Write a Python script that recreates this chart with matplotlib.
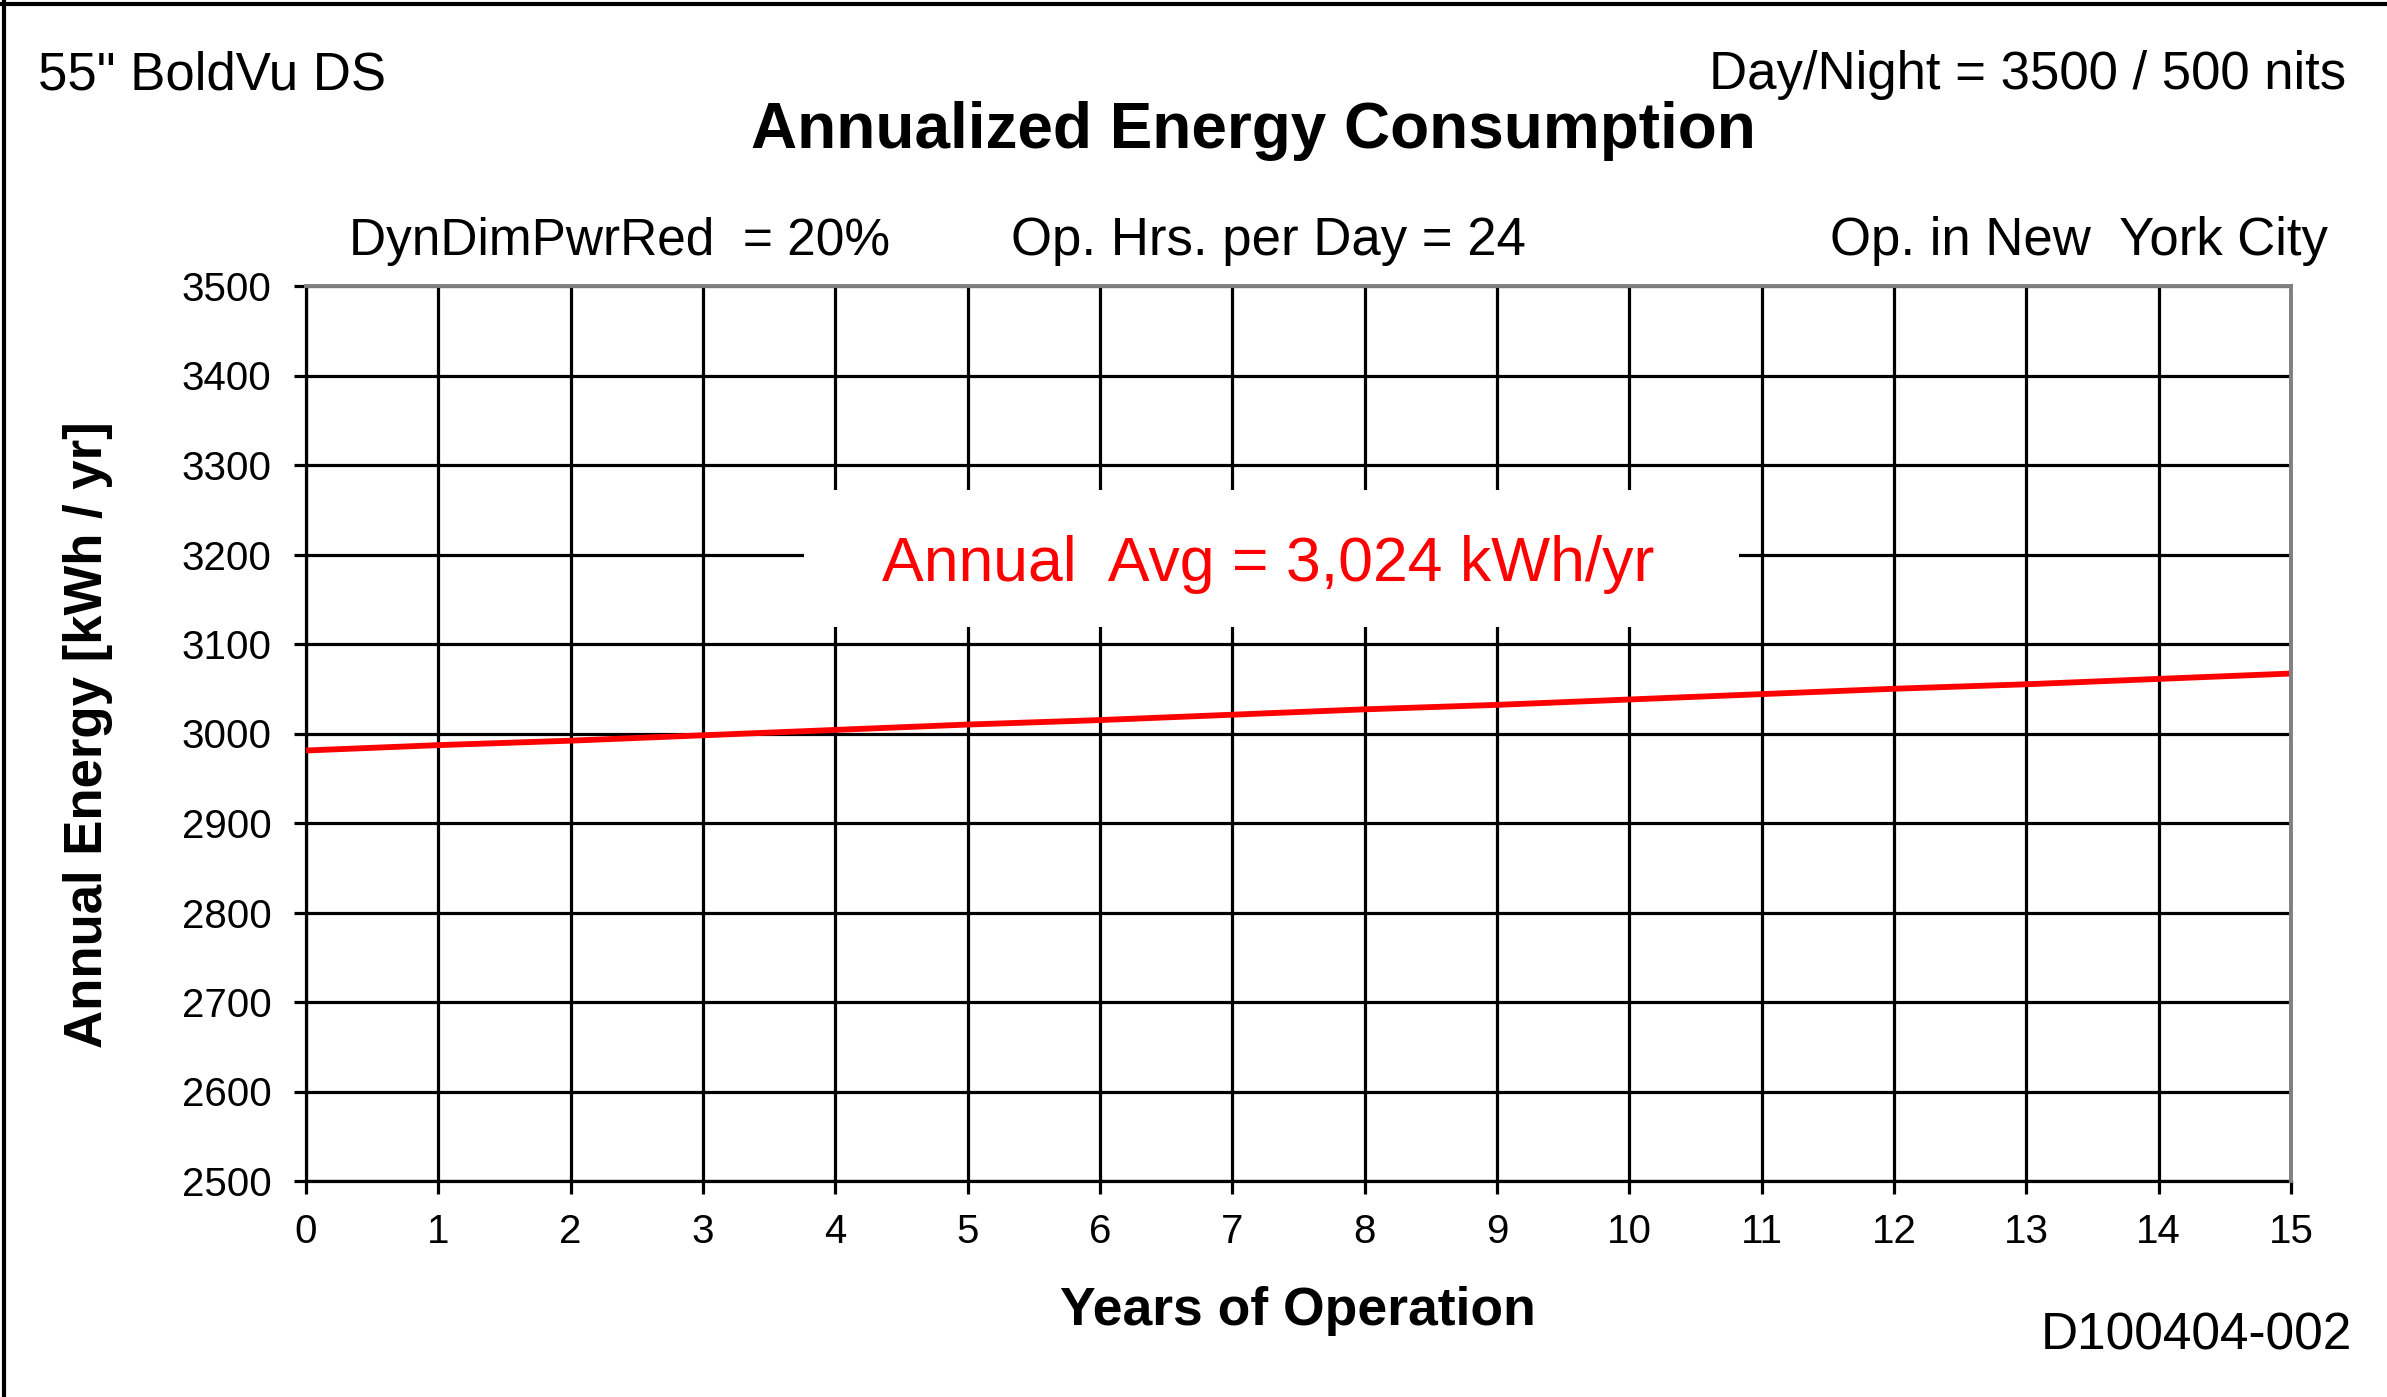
import matplotlib
matplotlib.use("Agg")
import matplotlib.pyplot as plt
from matplotlib.lines import Line2D
from matplotlib.patches import Rectangle

# ---- data ----
years = [0, 1, 2, 3, 4, 5, 6, 7, 8, 9, 10, 11, 12, 13, 14, 15]
energy = [2981, 2987, 2992, 2998, 3004, 3010, 3015, 3021, 3027, 3032,
          3038, 3044, 3050, 3055, 3061, 3067]
x_ticks = list(range(0, 16))
y_ticks = [2500, 2600, 2700, 2800, 2900, 3000, 3100, 3200, 3300, 3400, 3500]

title = "Annualized Energy Consumption"
top_left = '55" BoldVu DS'
top_right = "Day/Night = 3500 / 500 nits"
sub_left = "DynDimPwrRed  = 20%"
sub_mid = "Op. Hrs. per Day = 24"
sub_right = "Op. in New  York City"
avg_label = "Annual  Avg = 3,024 kWh/yr"
xlabel = "Years of Operation"
ylabel = "Annual Energy [kWh / yr]"
doc_id = "D100404-002"

plt.rcParams['font.family'] = ['Liberation Sans', 'DejaVu Sans']

W, H = 2387, 1397
fig = plt.figure(figsize=(W / 100, H / 100), dpi=100)
fig.patch.set_facecolor('white')

L, R, T, B = 306, 2291, 286, 1181
ax = fig.add_axes([L / W, 1 - B / H, (R - L) / W, (B - T) / H])

ax.plot(years, energy, color='#ff0000', lw=4.2, zorder=5, solid_capstyle='butt')

ax.set_xlim(0, 15)
ax.set_ylim(2500, 3500)
ax.set_xticks(x_ticks)
ax.set_yticks(y_ticks)
ax.grid(True, color='black', lw=2.3, zorder=1)
ax.set_axisbelow(True)

for side in ['left', 'bottom']:
    ax.spines[side].set_color('black')
    ax.spines[side].set_linewidth(2.3)
for side in ['top', 'right']:
    ax.spines[side].set_color('#808080')
    ax.spines[side].set_linewidth(2.8)
    ax.spines[side].set_zorder(6)

ax.tick_params(axis='both', direction='out', length=9, width=2.3, color='black',
               labelsize=29)
ax.tick_params(axis='y', pad=16)
ax.tick_params(axis='x', pad=14)

# white box behind the average label
ax.add_patch(Rectangle((0.2508, 0.619), 0.4709, 0.153, transform=ax.transAxes,
                       facecolor='white', edgecolor='none', zorder=3))
ax.text(0.4847, (776 - 371) / 588, avg_label, transform=ax.transAxes,
        ha='center', va='center', color='#ff0000', fontsize=45, zorder=4)

# axis labels
fig.text(1298 / W, 1 - 1311 / H, xlabel, ha='center', va='center',
         fontsize=38.5, fontweight='bold')
fig.text(88 / W, 1 - 735 / H, ylabel, ha='center', va='center',
         fontsize=38, fontweight='bold', rotation=90)

# header texts
fig.text(38 / W, 1 - 75 / H, top_left, ha='left', va='center', fontsize=38)
fig.text(2346 / W, 1 - 75 / H, top_right, ha='right', va='center', fontsize=38)
fig.text(1253 / W, 1 - 131 / H, title, ha='center', va='center',
         fontsize=46, fontweight='bold')
fig.text(349 / W, 1 - 241 / H, sub_left, ha='left', va='center', fontsize=37)
fig.text(1011 / W, 1 - 241 / H, sub_mid, ha='left', va='center', fontsize=38)
fig.text(2328 / W, 1 - 241 / H, sub_right, ha='right', va='center', fontsize=38)
fig.text(2352 / W, 1 - 1336 / H, doc_id, ha='right', va='center', fontsize=37)

# outer frame (left and top edges)
fig.add_artist(Line2D([4 / W, 4 / W], [0, 1], transform=fig.transFigure,
                      color='black', lw=3))
fig.add_artist(Line2D([0, 1], [1 - 4 / H, 1 - 4 / H], transform=fig.transFigure,
                      color='black', lw=3))

fig.savefig("out.png", dpi=100, facecolor='white')
